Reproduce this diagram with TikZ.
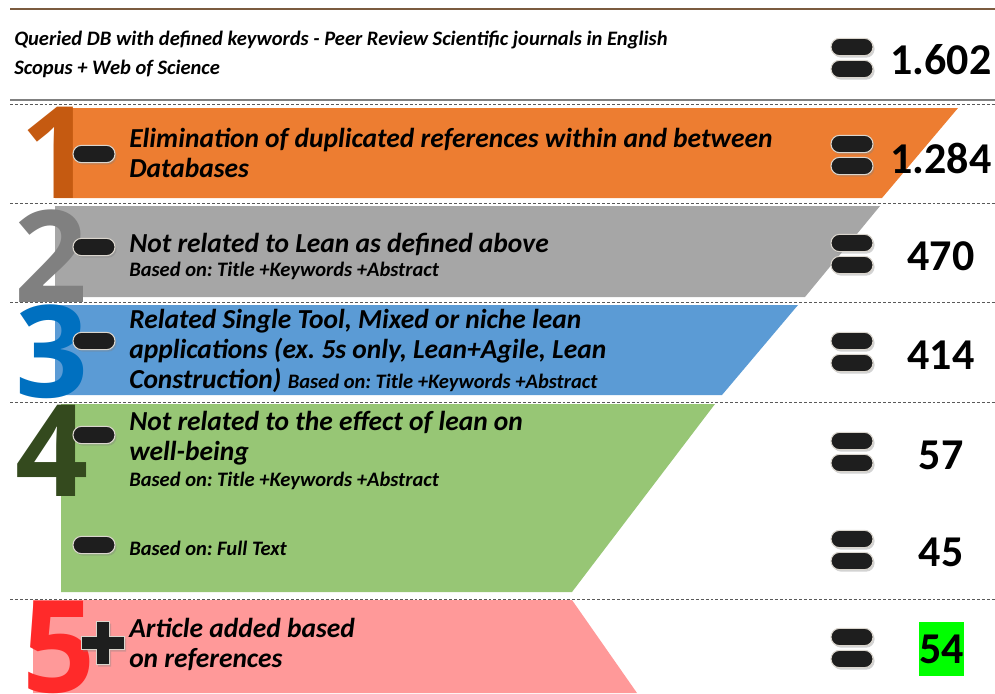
\documentclass[tikz,border=0pt]{standalone}
\usepackage{fontspec}
\setmainfont{Carlito}
\newfontfamily\digitfont{Open Sans}
\usetikzlibrary{shadows}
\frenchspacing

\definecolor{barone}{HTML}{ED7D31}
\definecolor{bartwo}{HTML}{A6A6A6}
\definecolor{barthree}{HTML}{5B9BD5}
\definecolor{barfour}{HTML}{97C675}
\definecolor{barfive}{HTML}{FF9999}
\definecolor{digone}{HTML}{C55A11}
\definecolor{digtwo}{HTML}{808080}
\definecolor{digthree}{HTML}{0070C0}
\definecolor{digfour}{HTML}{344A1E}
\definecolor{digfive}{HTML}{FF2A2A}
\definecolor{pillfill}{HTML}{1E1E1E}
\definecolor{pillrim}{HTML}{DAD5CD}
\definecolor{topline}{HTML}{7B5B3F}
\definecolor{rule}{HTML}{595959}

\begin{document}
\begin{tikzpicture}[
	x=0.75pt, y=-0.75pt,
	pill/.style = {draw=pillrim, line width=0.8pt, fill=pillfill, rounded corners=6.4pt,
		minimum width=31.5pt, minimum height=13pt, inner sep=0pt,
		drop shadow={shadow xshift=1.2pt, shadow yshift=-1.5pt, opacity=0.35}},
	bigdigit/.style = {inner sep=0pt, font=\digitfont\fontsize{96}{96}\selectfont\bfseries},
	count/.style = {inner sep=0pt, font=\fontsize{33}{33}\selectfont\bfseries},
	rowtext/.style = {anchor=west, align=left, inner sep=0pt, font=\fontsize{20.6}{22.5}\selectfont\bfseries\itshape},
	note/.style = {anchor=west, inner sep=0pt, font=\fontsize{15.4}{16}\selectfont\bfseries\itshape},
	divider/.style = {draw=rule, line width=0.7pt, dash pattern=on 2.2pt off 1.5pt}]

	\useasboundingbox (0,0) rectangle (995,693);

	% header
	\draw[topline, line width=1.5pt] (10,9) -- (995,9);
	\node[anchor=west, align=left, inner sep=0pt, font=\fontsize{15.4}{21.75}\selectfont\bfseries\itshape] (head) at (14,54)
		{Queried DB with defined keywords - Peer Review Scientific journals in English\\Scopus + Web of Science};
	\draw[gray, line width=1.5pt] (10,100) -- (995,100);

	% dashed dividers
	\foreach \y in {104,203,302,402,599}
		\draw[divider] (10,\y) -- (995,\y);

	% funnel bars: top, bottom, left, top right, bottom right
	\foreach \yt/\yb/\xl/\xt/\xb/\c in {108/198/55/958/882/barone, 206/297/55/880/805/bartwo,
		305/395/55/798/722/barthree, 404/592/61/715/572/barfour, 600/693/33/572/637/barfive}
	{
		\fill[\c] (\xl,\yt) -- (\xt,\yt) -- (\xb,\yb) -- (\xl,\yb) -- cycle;
	}

	% step numbers
	\foreach \n/\x/\y/\c in {1/57/153/digone, 2/51/256/digtwo, 3/52/352/digthree, 4/52/451/digfour, 5/59/647/digfive}
	{
		\node[bigdigit, text=\c] (d\n) at (\x,\y) {\n};
	}

	% minus signs
	\foreach \y [count=\i] in {154,247,341,435,545}
	{
		\node[pill] (m\i) at (94,\y) {};
	}
	% plus sign
	\path[draw=pillrim, line width=0.8pt, fill=pillfill, drop shadow={shadow xshift=1.2pt, shadow yshift=-1.5pt, opacity=0.35}]
		(96.5,621.5) -- (109.5,621.5) -- (109.5,636.5) -- (124.5,636.5) -- (124.5,649.5) -- (109.5,649.5)
		-- (109.5,664.5) -- (96.5,664.5) -- (96.5,649.5) -- (81.5,649.5) -- (81.5,636.5) -- (96.5,636.5) -- cycle;

	% row texts
	\node[rowtext] (t1) at (129,153) {Elimination of duplicated references within and between\\Databases};
	\node[rowtext] (t2) at (129,244) {Not related to Lean as defined above};
	\node[note] (n2) at (129,271) {Based on: Title +Keywords +Abstract};
	\node[rowtext] (t3) at (129,351) {Related Single Tool, Mixed or niche lean\\applications (ex. 5s only, Lean+Agile, Lean\\Construction) {\fontsize{15.4}{16}\selectfont Based on: Title +Keywords +Abstract}};
	\node[rowtext] (t4) at (129,438) {Not related to the effect of lean on\\well-being};
	\node[note] (n4) at (129,481) {Based on: Title +Keywords +Abstract};
	\node[note] (n4b) at (129,548) {Based on: Full Text};
	\node[rowtext] (t5) at (129,644) {Article added based\\on references};

	% equals signs
	\foreach \y [count=\i] in {58,155,254,352,452,550,648}
	{
		\node[pill] (ea\i) at (852,\y-11) {};
		\node[pill] (eb\i) at (852,\y+11) {};
	}

	% counts
	\foreach \v/\y [count=\i] in {1.602/60, 1.284/158, 470/256, 414/355, 57/455, 45/552}
	{
		\node[count] (c\i) at (941,\y) {\v};
	}
	\node[count, fill=green, minimum width=33.75pt, minimum height=40.5pt] (c7) at (941.5,649) {54};
\end{tikzpicture}
\end{document}
